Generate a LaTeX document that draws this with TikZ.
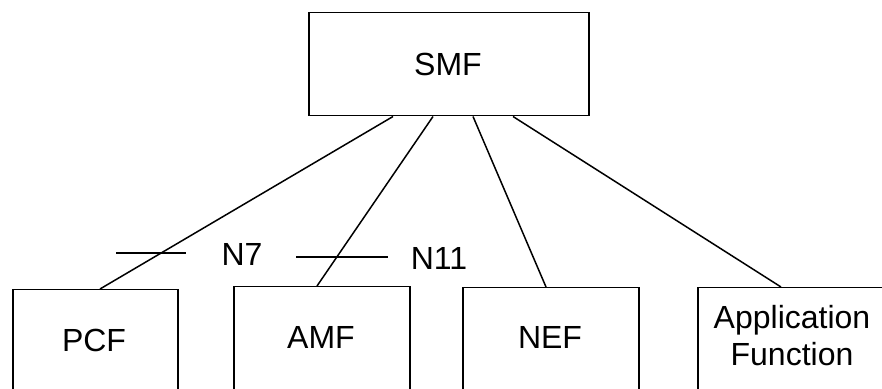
\documentclass[tikz,border=0pt]{standalone}
\usepackage{fontspec}
\setmainfont{Liberation Sans}
\usetikzlibrary{calc}
\begin{document}
\begin{tikzpicture}[x=0.5pt,y=-0.5pt,
  box/.style={draw,line width=0.75pt,inner sep=0pt,anchor=north west},
  lbl/.style={font=\fontsize{16}{18.5}\selectfont,inner sep=0pt,align=center},
  conn/.style={line width=0.75pt}]
\useasboundingbox (0,0) rectangle (882,389);
\clip (0,0) rectangle (882,389);
\node[box,minimum width=140pt,minimum height=51.5pt] (smf) at (308,12) {};
\node[box,minimum width=82.5pt,minimum height=70pt] (pcf) at (12,289) {};
\node[box,minimum width=88pt,minimum height=70pt] (amf) at (233,286) {};
\node[box,minimum width=88pt,minimum height=70pt] (nef) at (462,287) {};
\node[box,minimum width=100pt,minimum height=70pt] (af) at (697,287) {};
\node[lbl] (smft) at (448,64) {SMF};
\node[lbl] (pcft) at (94,340) {PCF};
\node[lbl] (amft) at (321,337) {AMF};
\node[lbl] (neft) at (550,337) {NEF};
\node[lbl] (aft) at (792,336) {Application\\Function};
\node[lbl] (n7) at (242,254) {N7};
\node[lbl] (n11) at (439,258) {N11};
\draw[conn] ($(smf.south west)+(85,0)$) -- ($(pcf.north west)+(88,0)$);
\draw[conn] ($(smf.south west)+(125,0)$) -- ($(amf.north west)+(84,0)$);
\draw[conn] ($(smf.south west)+(165,0)$) -- ($(nef.north west)+(84,0)$);
\draw[conn] ($(smf.south west)+(205,0)$) -- ($(af.north west)+(84,0)$);
\coordinate (t7a) at (116,253);
\coordinate (t7b) at (186,253);
\coordinate (t11a) at (296,257);
\coordinate (t11b) at (388,257);
\draw[conn] (t7a) -- (t7b);
\draw[conn] (t11a) -- (t11b);
\end{tikzpicture}
\end{document}
